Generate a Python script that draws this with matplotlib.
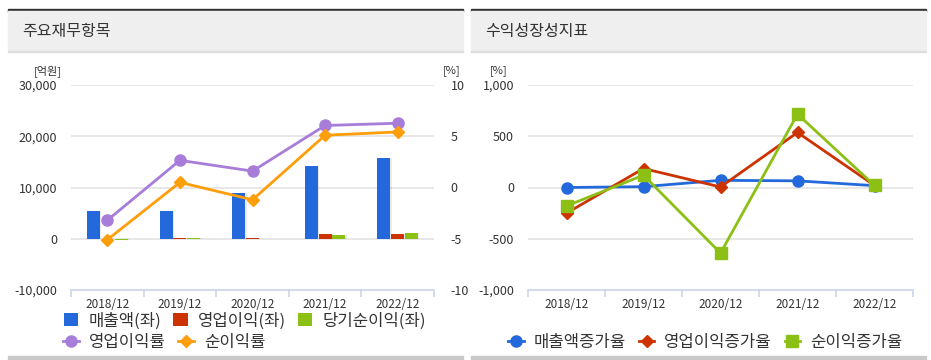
import matplotlib
matplotlib.use("Agg")
import matplotlib.pyplot as plt
from matplotlib.patches import Rectangle
from matplotlib.lines import Line2D
from matplotlib.patches import Patch

plt.rcParams['font.family'] = ['Noto Sans CJK KR', 'DejaVu Sans']
plt.rcParams['axes.unicode_minus'] = False

# ---------------- data ----------------
years = ['2018/12', '2019/12', '2020/12', '2021/12', '2022/12']
sales = [5450, 5450, 8830, 14160, 15700]          # 매출액 (억원)
op_profit = [-20, 150, 130, 1000, 1000]          # 영업이익 (억원)
net_income = [-200, 150, -30, 700, 1050]         # 당기순이익 (억원)
op_margin = [-3.2, 2.65, 1.6, 6.05, 6.27]        # 영업이익률 (%)
net_margin = [-5.1, 0.5, -1.2, 5.1, 5.42]        # 순이익률 (%)

sales_growth = [0, 8, 70, 65, 18]                # 매출액증가율 (%)
op_growth = [-250, 185, 5, 537, 20]              # 영업이익증가율 (%)
net_growth = [-180, 120, -640, 716, 20]          # 순이익증가율 (%)

left_yticks = [-10000, 0, 10000, 20000, 30000]
right_yticks = [-10, -5, 0, 5, 10]
growth_yticks = [-1000, -500, 0, 500, 1000]

C_BLUE = '#2369dc'
C_RED = '#cc3300'
C_GREEN = '#8cc014'
C_PURPLE = '#a77dd9'
C_ORANGE = '#ff9e0b'
TXT = '#333333'
GRID = '#e3e3e3'
AXC = '#ccd6eb'

W, H = 931, 360
fig = plt.figure(figsize=(W / 100, H / 100), dpi=100)


def fx(px):
    return px / W


def fy(py):
    return 1 - py / H


def panel_frame(x0, x1, title):
    fig.patches.append(Rectangle((fx(x0), fy(11.5)), fx(x1 - x0), 2.5 / H,
                                 transform=fig.transFigure, color='#333333', zorder=0))
    fig.patches.append(Rectangle((fx(x0), fy(51)), fx(x1 - x0), 39.5 / H,
                                 transform=fig.transFigure, color='#efefef', zorder=0))
    fig.patches.append(Rectangle((fx(x0), fy(52)), fx(x1 - x0), 1 / H,
                                 transform=fig.transFigure, color='#dddddd', zorder=0))
    fig.patches.append(Rectangle((fx(x0), fy(358.5)), fx(x1 - x0), 2.5 / H,
                                 transform=fig.transFigure, color='#c8c8c8', zorder=0))
    fig.text(fx(x0 + 14), fy(31.5), title, fontsize=11.5, color=TXT,
             ha='left', va='center')


panel_frame(8, 463, '주요재무항목')
panel_frame(471, 926, '수익성장성지표')

x = list(range(len(years)))


def style_axis(ax):
    ax.set_xlim(-0.5, len(years) - 0.5)
    for s in ['left', 'right', 'top']:
        ax.spines[s].set_visible(False)
    ax.spines['bottom'].set_color(AXC)
    ax.spines['bottom'].set_linewidth(1.2)
    ax.set_xticks(x)
    ax.set_xticklabels(years, fontsize=8.5, color=TXT)
    ax.tick_params(axis='x', which='major', length=0, pad=6)
    ax.set_xticks([i - 0.5 for i in range(len(years) + 1)], minor=True)
    ax.tick_params(axis='x', which='minor', length=5, color=AXC, width=1.2)
    ax.grid(axis='y', color=GRID, linewidth=1.2)
    ax.set_axisbelow(True)
    ax.tick_params(axis='y', length=0, labelsize=9, labelcolor=TXT)


# ---------------- left chart ----------------
ax = fig.add_axes([fx(71), fy(290), fx(434 - 71), (290 - 85) / H])
style_axis(ax)
ax.set_ylim(-10000, 30000)
ax.set_yticks(left_yticks)
ax.set_yticklabels([f'{v:,}' for v in left_yticks])
ax.tick_params(axis='y', pad=10)

bw = 0.18
off = 0.19
for vals, dx, col in [(sales, -off, C_BLUE), (op_profit, 0, C_RED), (net_income, off, C_GREEN)]:
    xs = [i + dx for i in x]
    ax.bar([v + 0.02 for v in xs], vals, width=bw, color='#000000', alpha=0.08, zorder=2)
    ax.bar(xs, vals, width=bw, color=col, zorder=3)

ax2 = ax.twinx()
ax2.set_ylim(-10, 10)
ax2.set_yticks(right_yticks)
for s in ['left', 'right', 'top', 'bottom']:
    ax2.spines[s].set_visible(False)
ax2.tick_params(axis='y', length=0, labelsize=9, labelcolor=TXT, pad=12)
ax2.plot(x, op_margin, color=C_PURPLE, lw=2, marker='o', ms=8, zorder=5)
ax2.plot(x, net_margin, color=C_ORANGE, lw=2, marker='D', ms=6.5, zorder=6)

fig.text(fx(48), fy(71), '[억원]', fontsize=8, color=TXT, ha='center', va='center')
fig.text(fx(452), fy(71), '[%]', fontsize=8, color=TXT, ha='center', va='center')

h1 = [Patch(facecolor=C_BLUE, edgecolor='none'),
      Patch(facecolor=C_RED, edgecolor='none'),
      Patch(facecolor=C_GREEN, edgecolor='none')]
l1 = ['매출액(좌)', '영업이익(좌)', '당기순이익(좌)']
fig.legend(h1, l1, loc='center left', bbox_to_anchor=(fx(64), fy(321)),
           ncol=3, frameon=False, fontsize=12, handlelength=0.85,
           handleheight=0.85, handletextpad=0.6, columnspacing=0.75,
           labelcolor=TXT, borderpad=0, borderaxespad=0)
h2 = [Line2D([0], [0], color=C_PURPLE, lw=2, marker='o', ms=8),
      Line2D([0], [0], color=C_ORANGE, lw=2, marker='D', ms=6.5)]
l2 = ['영업이익률', '순이익률']
fig.legend(h2, l2, loc='center left', bbox_to_anchor=(fx(63), fy(342)),
           ncol=2, frameon=False, fontsize=12, handlelength=0.95,
           handletextpad=0.6, columnspacing=0.75, labelcolor=TXT,
           borderpad=0, borderaxespad=0)

# ---------------- right chart ----------------
bx = fig.add_axes([fx(528), fy(290), fx(913 - 528), (290 - 85) / H])
style_axis(bx)
bx.set_ylim(-1000, 1000)
bx.set_yticks(growth_yticks)
bx.set_yticklabels([f'{v:,}' for v in growth_yticks])
bx.tick_params(axis='y', pad=10)

bx.plot(x, sales_growth, color=C_BLUE, lw=2, marker='o', ms=8, zorder=5)
bx.plot(x, op_growth, color=C_RED, lw=2, marker='D', ms=6.5, zorder=6)
bx.plot(x, net_growth, color=C_GREEN, lw=2, marker='s', ms=8, zorder=7)

fig.text(fx(499), fy(71), '[%]', fontsize=8, color=TXT, ha='center', va='center')

h3 = [Line2D([0], [0], color=C_BLUE, lw=2, marker='o', ms=8),
      Line2D([0], [0], color=C_RED, lw=2, marker='D', ms=6.5),
      Line2D([0], [0], color=C_GREEN, lw=2, marker='s', ms=8)]
l3 = ['매출액증가율', '영업이익증가율', '순이익증가율']
fig.legend(h3, l3, loc='center left', bbox_to_anchor=(fx(508), fy(342)),
           ncol=3, frameon=False, fontsize=12, handlelength=0.95,
           handletextpad=0.6, columnspacing=0.75, labelcolor=TXT,
           borderpad=0, borderaxespad=0)

fig.savefig('out.png', dpi=100)
